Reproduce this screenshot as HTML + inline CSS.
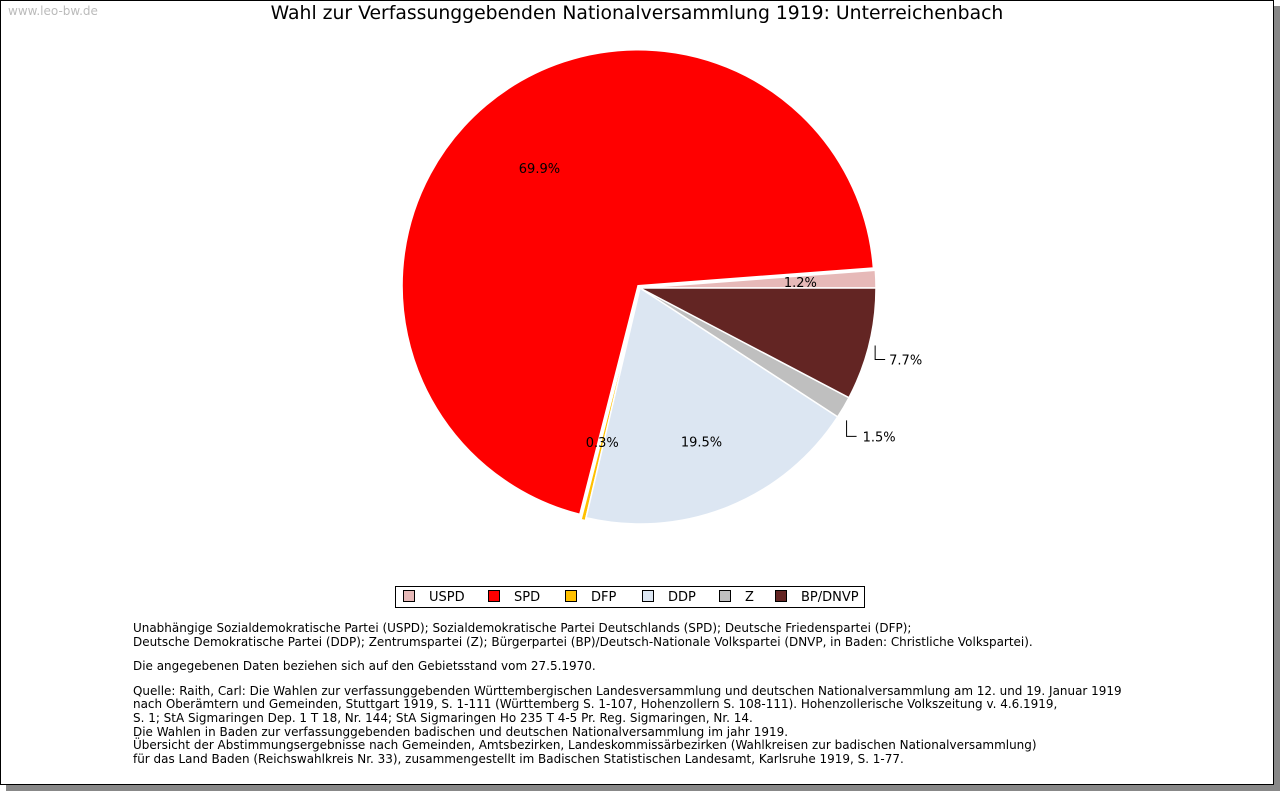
<!DOCTYPE html>
<html><head><meta charset="utf-8"><style>
body{margin:0;width:1280px;height:791px;background:#fff;font-family:"DejaVu Sans","Liberation Sans",sans-serif;position:relative;overflow:hidden}
#frame{position:absolute;left:0;top:0;width:1272px;height:783px;border:1px solid #000;box-shadow:6px 6px 0 #888;background:#fff}
#wm{position:absolute;left:8px;top:4px;font-size:12px;color:#bbb}
#title{position:absolute;left:0;width:1274px;top:3px;text-align:center;font-size:18.8px;color:#000}
#notes{position:absolute;left:133px;top:622px;font-size:11.98px;line-height:13.6px;color:#000;white-space:pre}
#notes div+div{margin-top:11px}
#legend{position:absolute;left:395px;top:586px;width:468px;height:20px;border:1px solid #000;font-size:13px}
.li{position:absolute;top:3px;height:14px;line-height:14px}
.sw{display:inline-block;width:10px;height:10px;border:1px solid #000;vertical-align:-1px;margin-right:14px}
</style></head><body>
<div id="frame"></div>
<div id="wm">www.leo-bw.de</div>
<div id="title">Wahl zur Verfassunggebenden Nationalversammlung 1919: Unterreichenbach</div>
<svg id="pie" width="1280" height="791" style="position:absolute;left:0;top:0"></svg>
<div id="legend">
<div class="li" style="left:7px"><span class="sw" style="background:#e6b9b8"></span>USPD</div>
<div class="li" style="left:92px"><span class="sw" style="background:#ff0000"></span>SPD</div>
<div class="li" style="left:169px"><span class="sw" style="background:#ffc000"></span>DFP</div>
<div class="li" style="left:246px"><span class="sw" style="background:#dce6f2"></span>DDP</div>
<div class="li" style="left:323px"><span class="sw" style="background:#bfbfbf"></span>Z</div>
<div class="li" style="left:379px"><span class="sw" style="background:#632523"></span>BP/DNVP</div>
</div>
<div id="notes"><div>Unabhängige Sozialdemokratische Partei (USPD); Sozialdemokratische Partei Deutschlands (SPD); Deutsche Friedenspartei (DFP);
Deutsche Demokratische Partei (DDP); Zentrumspartei (Z); Bürgerpartei (BP)/Deutsch-Nationale Volkspartei (DNVP, in Baden: Christliche Volkspartei).</div><div>Die angegebenen Daten beziehen sich auf den Gebietsstand vom 27.5.1970.</div><div>Quelle: Raith, Carl: Die Wahlen zur verfassunggebenden Württembergischen Landesversammlung und deutschen Nationalversammlung am 12. und 19. Januar 1919
nach Oberämtern und Gemeinden, Stuttgart 1919, S. 1-111 (Württemberg S. 1-107, Hohenzollern S. 108-111). Hohenzollerische Volkszeitung v. 4.6.1919,
S. 1; StA Sigmaringen Dep. 1 T 18, Nr. 144; StA Sigmaringen Ho 235 T 4-5 Pr. Reg. Sigmaringen, Nr. 14.
Die Wahlen in Baden zur verfassunggebenden badischen und deutschen Nationalversammlung im jahr 1919.
Übersicht der Abstimmungsergebnisse nach Gemeinden, Amtsbezirken, Landeskommissärbezirken (Wahlkreisen zur badischen Nationalversammlung)
für das Land Baden (Reichswahlkreis Nr. 33), zusammengestellt im Badischen Statistischen Landesamt, Karlsruhe 1919, S. 1-77.</div></div>
<script>
const categories=["USPD","SPD","DFP","DDP","Z","BP/DNVP"];
const values=[1.2,69.9,0.3,19.5,1.5,7.7];
const labels=["1.2%","69.9%","0.3%","19.5%","1.5%","7.7%"];
const colors=["#e6b9b8","#ff0000","#ffc000","#dce6f2","#bfbfbf","#632523"];
const svg=document.getElementById('pie');
const NS="http://www.w3.org/2000/svg";
const cx=640,cy=288,R=236;
const explode=[0,3,3,0,0,0];
const total=values.reduce((a,b)=>a+b,0);
const ang=v=>v/total*2*Math.PI;
const labelQueue=[];
let a0=0;
values.forEach((v,i)=>{
  const a1=a0+ang(v);
  const mid=(a0+a1)/2;
  const ox=Math.cos(mid)*explode[i],oy=-Math.sin(mid)*explode[i];
  const x0=cx+ox+R*Math.cos(a0),y0=cy+oy-R*Math.sin(a0);
  const x1=cx+ox+R*Math.cos(a1),y1=cy+oy-R*Math.sin(a1);
  const p=document.createElementNS(NS,'path');
  p.setAttribute('d',`M${cx+ox},${cy+oy}L${x0},${y0}A${R},${R} 0 ${a1-a0>Math.PI?1:0} 0 ${x1},${y1}Z`);
  p.setAttribute('fill',colors[i]);p.setAttribute('stroke','#fff');p.setAttribute('stroke-width','1.5');
  
  
  svg.appendChild(p);
  labelQueue.push([i,mid,ox,oy]);
  a0=a1;
});
labelQueue.forEach(([i,mid,ox,oy])=>{
  let lx,ly,anchor='middle';
  const ex=cx+R*Math.cos(mid),ey=cy-R*Math.sin(mid);
  if(i===5||i===4){
    const d=i===5?`M${ex+6},${ey+1}V${ey+15}H${ex+16}`:`M${ex+3},${ey+13}V${ey+29}H${ex+13}`;
    const l=document.createElementNS(NS,'path');
    l.setAttribute('d',d);
    l.setAttribute('stroke','#000');l.setAttribute('fill','none');
    
    
    svg.appendChild(l);
    lx=i===5?ex+20:ex+19;ly=i===5?ey+20:ey+34;anchor='start';
  } else {
    const rr=i===0?R*0.68:(i===2?R*0.66:(i===1?R*0.65:R*0.7));
    lx=cx+ox+rr*Math.cos(mid);ly=cy+oy-rr*Math.sin(mid)+5;
  }
  const t=document.createElementNS(NS,'text');
  t.setAttribute('x',lx);t.setAttribute('y',ly);t.setAttribute('text-anchor',anchor);
  t.setAttribute('font-size','13');t.setAttribute('font-family','DejaVu Sans, sans-serif');
  t.textContent=labels[i];
  
  
  svg.appendChild(t);
});
</script>
</body></html>
